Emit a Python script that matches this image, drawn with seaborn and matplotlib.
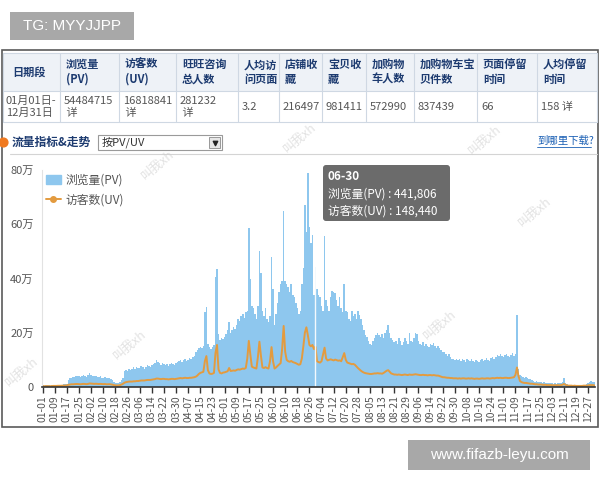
import pandas as pd
import matplotlib
matplotlib.use("Agg")
import matplotlib.pyplot as plt
import seaborn as sns
from matplotlib.patches import Rectangle, FancyBboxPatch, Patch
from matplotlib.lines import Line2D

# daily page views (PV), unit: 万
pv_jan = [0.6, 0.5, 0.6, 0.7, 0.6, 0.5, 0.6, 0.7, 0.8, 0.7, 0.8, 0.9, 0.8, 0.9, 1.0, 1.1, 1.2, 2.5, 3.2, 3.5,
          3.8, 3.6, 4.0, 4.2, 3.9, 3.7, 4.1, 4.3, 4.0, 3.8, 4.4]
pv_feb = [5.2, 4.6, 4.2, 3.9, 4.1, 3.8, 3.6, 3.9, 3.5, 3.4, 3.7, 3.3, 3.2, 3.5, 3.1, 2.6, 2.0, 1.6, 1.4, 1.5,
          1.8, 2.4, 3.5, 5.8, 6.3, 6.0, 6.6, 6.2]
pv_mar = [6.8, 7.2, 6.5, 7.4, 7.0, 6.9, 7.6, 7.3, 6.8, 7.5, 8.0, 7.6, 7.2, 8.1, 8.4, 9.0, 9.8, 9.3, 8.7, 8.2,
          8.9, 8.5, 8.0, 8.3, 7.6, 8.4, 8.8, 8.5, 8.2, 8.9, 9.1]
pv_apr = [9.5, 10.0, 9.2, 9.8, 10.4, 9.6, 10.1, 10.8, 10.2, 11.0, 11.5, 12.8, 13.6, 14.2, 14.8, 14.5, 15.2, 27.5, 29.5, 16.0,
          14.6, 14.0, 14.8, 15.3, 40.5, 43.5, 19.5, 17.2, 18.0, 17.6]
pv_may = [18.5, 19.5, 21, 24, 20, 21, 22, 21.5, 23, 25, 24.5, 26, 27, 25.5, 27.5, 28, 58.6, 40, 30, 29,
          27, 25, 30, 50, 42, 28, 26, 29, 25, 24, 26]
pv_jun = [48, 36, 23, 27, 31, 35, 38, 39, 65, 39, 38, 37, 35, 38, 34, 33, 31, 29, 27, 28,
          38, 44, 67, 57, 79, 59, 53, 56, 34, 44.1806]
pv_jul = [36, 34, 33, 30, 28, 55.5, 32, 30, 28, 33, 35.5, 35, 34.5, 32, 30, 33, 29, 27.5, 38, 28,
          27.5, 25, 24.5, 28, 26, 27, 25, 28, 26.5, 25, 23]
pv_aug = [21, 19, 18.5, 17, 16, 15.5, 17, 18, 19, 20, 19, 18.5, 19.5, 18, 20, 21, 23, 20, 18, 17.5,
          16.5, 17, 16, 18, 17, 15.5, 16.5, 18, 17, 16, 20]
pv_sep = [17, 16.5, 18, 20, 19.5, 17, 16, 15.5, 16.6, 15, 16, 15.2, 14.8, 16, 15.5, 16.2, 15, 14.5, 15.2, 14.4,
          13.5, 12.8, 13, 12, 11.5, 12.2, 11, 10.5, 10.2, 10]
pv_oct = [10.4, 9.8, 10.2, 9.6, 10.5, 10, 9.4, 10.2, 9.8, 9.5, 10.4, 9.7, 9.2, 10, 9.6, 9.3, 9.8, 10.2, 9.5, 9.9,
          10.6, 10.1, 9.7, 10.8, 11.2, 10.5, 11.0, 11.8, 11.3, 12.0, 11.5]
pv_nov = [11.2, 11.8, 12.2, 11.5, 11.0, 11.8, 12.4, 11.6, 12.0, 26.5, 6.5, 4.4, 4.0, 3.8, 3.5, 3.6, 3.3, 3.0, 2.8, 2.5,
          2.2, 2.0, 2.1, 1.8, 1.9, 1.7, 1.6, 1.8, 1.5, 1.4]
pv_dec = [1.5, 1.3, 1.4, 1.2, 1.3, 1.2, 1.4, 1.3, 1.5, 1.8, 3.4, 1.6, 1.0, 0.9, 0.8, 0.8, 0.7, 0.8, 0.7, 0.6,
          0.7, 0.6, 0.7, 0.8, 0.9, 1.2, 1.5, 2.0, 2.2, 2.0, 1.8]

# daily unique visitors (UV), unit: 万
uv_jan = [0.3, 0.3, 0.3, 0.35, 0.3, 0.3, 0.35, 0.4, 0.4, 0.4, 0.45, 0.45, 0.45, 0.5, 0.5, 0.55, 0.6, 0.8, 0.9, 1.0,
          1.0, 1.05, 1.1, 1.1, 1.05, 1.0, 1.1, 1.15, 1.1, 1.05, 1.15]
uv_feb = [1.3, 1.25, 1.2, 1.15, 1.2, 1.15, 1.1, 1.15, 1.1, 1.05, 1.1, 1.0, 1.0, 1.05, 0.95, 0.85, 0.7, 0.6, 0.55, 0.6,
          0.7, 0.9, 1.2, 1.6, 1.8, 1.9, 2.0, 2.0]
uv_mar = [2.0, 2.1, 2.1, 2.2, 2.2, 2.3, 2.4, 2.4, 2.4, 2.5, 2.6, 2.6, 2.6, 2.7, 2.8, 2.9, 3.1, 3.1, 3.0, 2.9,
          3.0, 3.0, 2.9, 2.9, 2.8, 2.9, 3.0, 3.0, 2.9, 3.0, 3.1]
uv_apr = [3.2, 3.3, 3.2, 3.3, 3.4, 3.3, 3.3, 3.4, 3.4, 3.5, 3.6, 3.8, 4.2, 4.8, 5.2, 5.4, 5.6, 9.5, 11.4, 6.2,
          5.0, 4.8, 4.9, 5.2, 12.5, 15.5, 6.5, 5.2, 5.0, 5.3]
uv_may = [5.4, 5.6, 5.8, 7.0, 5.9, 6.0, 6.1, 6.0, 6.3, 6.5, 6.4, 6.6, 6.8, 6.7, 7.0, 10.5, 17.0, 12.0, 7.5, 7.2,
          7.0, 6.8, 11.0, 16.7, 11.5, 7.2, 7.0, 7.3, 7.0, 6.8, 9.5]
uv_jun = [14.7, 9.5, 6.8, 7.2, 7.8, 8.3, 8.8, 14.0, 22.5, 13.0, 10.0, 9.5, 9.3, 9.6, 9.2, 9.0, 8.8, 8.5, 8.2, 8.4,
          10.5, 15.0, 20.0, 22.0, 19.0, 15.5, 15.0, 15.5, 14.0, 14.844]
uv_jul = [9.5, 9.2, 9.0, 9.5, 12.0, 14.5, 10.5, 9.8, 10.0, 10.2, 10.0, 9.8, 10.1, 9.9, 9.7, 9.8, 9.5, 11.0, 12.5, 10.0,
          9.0, 8.8, 8.6, 8.4, 8.5, 8.2, 7.6, 7.0, 6.5, 6.0, 5.6]
uv_aug = [5.3, 5.1, 5.0, 4.9, 4.8, 4.8, 4.9, 5.0, 5.0, 5.1, 5.0, 5.0, 4.9, 5.2, 5.6, 6.0, 6.2, 5.6, 5.0, 4.8,
          4.6, 4.6, 4.5, 4.6, 4.5, 4.4, 4.5, 4.6, 4.5, 4.4, 4.6]
uv_sep = [4.5, 4.5, 4.6, 4.7, 4.6, 4.5, 4.4, 4.4, 4.5, 4.4, 4.4, 4.3, 4.4, 4.4, 4.3, 4.4, 4.3, 4.2, 4.2, 4.0,
          3.8, 3.6, 3.6, 3.5, 3.4, 3.4, 3.3, 3.3, 3.2, 3.2]
uv_oct = [3.2, 3.1, 3.2, 3.1, 3.2, 3.2, 3.1, 3.1, 3.2, 3.1, 3.2, 3.1, 3.0, 3.1, 3.1, 3.0, 3.1, 3.2, 3.1, 3.1,
          3.2, 3.2, 3.1, 3.2, 3.3, 3.2, 3.3, 3.4, 3.3, 3.4, 3.3]
uv_nov = [3.3, 3.4, 3.4, 3.3, 3.3, 3.4, 3.5, 3.6, 4.5, 7.2, 4.0, 2.2, 1.8, 1.6, 1.5, 1.5, 1.4, 1.3, 1.2, 1.2,
          1.1, 1.0, 1.0, 0.9, 0.9, 0.9, 0.8, 0.8, 0.8, 0.7]
uv_dec = [0.7, 0.7, 0.7, 0.6, 0.7, 0.6, 0.7, 0.6, 0.7, 0.8, 1.1, 0.8, 0.6, 0.5, 0.5, 0.5, 0.4, 0.5, 0.4, 0.4,
          0.4, 0.4, 0.4, 0.5, 0.5, 0.5, 0.6, 0.7, 0.7, 0.7, 0.6]

pv = (pv_jan + pv_feb + pv_mar + pv_apr + pv_may + pv_jun +
      pv_jul + pv_aug + pv_sep + pv_oct + pv_nov + pv_dec)
uv = (uv_jan + uv_feb + uv_mar + uv_apr + uv_may + uv_jun +
      uv_jul + uv_aug + uv_sep + uv_oct + uv_nov + uv_dec)
dates = pd.date_range("2015-01-01", "2015-12-31", freq="D")
df = pd.DataFrame({"day": range(len(dates)), "date": dates.strftime("%m-%d"), "pv": pv, "uv": uv})

y_ticks = [0, 20, 40, 60, 80]
y_labels = ["0", "20万", "40万", "60万", "80万"]
hover_day = "06-30"

# summary table above the chart
table_heads = ["日期段", "浏览量\n(PV)", "访客数\n(UV)", "旺旺咨询\n总人数", "人均访\n问页面", "店铺收\n藏",
               "宝贝收\n藏", "加购物\n车人数", "加购物车宝\n贝件数", "页面停留\n时间", "人均停留\n时间"]
table_vals = ["01月01日-\n12月31日", "54484715\n 详", "16818841\n 详", "281232\n 详", "3.2", "216497",
              "981411", "572990", "837439", "66", "158 详"]
col_edges = [3, 60, 119, 176, 238, 279, 322, 366, 414, 477, 537, 597]

# faint watermark stamps
marks = [(22, 372, "叫我xh"), (130, 345, "叫我xh"), (158, 165, "叫我xh"), (300, 138, "叫我xh"),
         (485, 140, "叫我xh"), (535, 212, "叫我xh"), (440, 325, "叫我xh")]

sns.set_theme(style="white")
plt.rcParams["font.family"] = ["Noto Sans CJK SC", "DejaVu Sans"]

fig = plt.figure(figsize=(6, 4.8), dpi=100)
bg = fig.add_axes([0, 0, 1, 1])
bg.set_xlim(0, 600)
bg.set_ylim(480, 0)
bg.axis("off")

# screenshot frame
bg.add_patch(Rectangle((2, 50), 596, 377, fill=False, ec="#5a5a5a", lw=1.2))

# table
bg.add_patch(Rectangle((3, 53), 594, 38, fc="#eef2f7", ec="none"))
for y in [53, 91, 122]:
    bg.plot([3, 597], [y, y], color="#cfd8e3", lw=0.8)
for x in col_edges:
    bg.plot([x, x], [53, 122], color="#cfd8e3", lw=0.8)
for i, (h, v) in enumerate(zip(table_heads, table_vals)):
    x0 = col_edges[i] + 6
    bg.text(x0 + (3 if i == 0 else 0), 72, h, fontsize=8, color="#1d3b70", fontweight="bold",
            va="center", ha="left", linespacing=1.15)
    bg.text(x0 - (3 if i == 0 else 2), 107, v, fontsize=8, color="#555555",
            va="center", ha="left", linespacing=1.25)

# section title row
bg.scatter([3], [142], s=40, color="#f07a20", zorder=3)
bg.text(12, 142, "流量指标&走势", fontsize=8.5, color="#1d3b70", fontweight="bold", va="center")
bg.add_patch(Rectangle((98, 135), 124, 15, fc="white", ec="#9a9a9a", lw=0.8))
bg.text(102, 142.5, "按PV/UV", fontsize=8, color="#333333", va="center")
bg.add_patch(Rectangle((209, 137), 11, 11, fc="#e6e6e6", ec="#8a8a8a", lw=0.6))
bg.scatter([214.5], [143], marker="v", s=10, color="#222222")
bg.text(537, 141, "到哪里下载?", fontsize=7.5, color="#1a5fb4", va="center")
bg.plot([537, 591], [147, 147], color="#1a5fb4", lw=0.6)
bg.plot([10, 597], [154, 154], color="#d4d4d4", lw=0.8)

# chart
ax = fig.add_axes([42 / 600, 1 - 387 / 480, 553 / 600, 217 / 480])
ax.patch.set_alpha(0)
ax.bar(df["day"], df["pv"], width=1.0, color="#8ec7ee", linewidth=0)
sns.lineplot(data=df, x="day", y="uv", ax=ax, color="#e39b3f", lw=1.4)
hover_idx = df.index[df["date"] == hover_day][0]
ax.axvline(hover_idx, color="white", lw=1, alpha=0.9)
ax.set_xlim(-0.5, len(df) - 0.5)
ax.set_ylim(0, 80)
ax.set_yticks(y_ticks)
ax.set_yticklabels(y_labels, fontsize=8, color="#555555")
tick_days = df["day"][::8]
ax.set_xticks(tick_days)
ax.set_xticklabels(df["date"][::8], rotation=90, fontsize=7.5, color="#555555")
ax.tick_params(axis="x", direction="out", length=4, width=1, color="#333333", pad=2, bottom=True)
ax.tick_params(axis="y", length=0, pad=6)
ax.set_xlabel("")
ax.set_ylabel("")
for s in ["top", "right"]:
    ax.spines[s].set_visible(False)
ax.spines["left"].set_color("#e2e2e2")
ax.spines["left"].set_linewidth(0.8)
ax.spines["bottom"].set_color("#333333")
ax.spines["bottom"].set_linewidth(1.2)

handles = [Patch(color="#8ec7ee"),
           Line2D([0], [0], color="#e39b3f", lw=1.4, marker="o", markersize=4)]
ax.legend(handles, ["浏览量(PV)", "访客数(UV)"], loc="upper left", bbox_to_anchor=(0, 1.0),
          frameon=False, fontsize=8.5, handlelength=1.3, handletextpad=0.4, labelspacing=0.6,
          borderaxespad=0, borderpad=0.3, labelcolor="#555555")

# tooltip and watermarks on top
top = fig.add_axes([0, 0, 1, 1], zorder=5)
top.set_xlim(0, 600)
top.set_ylim(480, 0)
top.axis("off")
for mx, my, mt in marks:
    top.text(mx, my, mt, fontsize=9, color="#cfcfcf", alpha=0.6, rotation=40,
             ha="center", va="center")
top.add_patch(FancyBboxPatch((323, 165), 127, 56, boxstyle="round,pad=0,rounding_size=3",
                             fc="#5e5e5e", ec="none", alpha=0.92))
hp = df.loc[hover_idx, "pv"] * 10000
hu = df.loc[hover_idx, "uv"] * 10000
top.text(328, 177, hover_day, fontsize=8.5, color="white", va="center", fontweight="bold")
top.text(328, 194, f"浏览量(PV) : {hp:,.0f}", fontsize=8.5, color="white", va="center")
top.text(328, 211, f"访客数(UV) : {hu:,.0f}", fontsize=8.5, color="white", va="center")

top.add_patch(Rectangle((10, 12), 124, 28, fc="#a8a8a8", ec="none"))
top.text(72, 26.5, "TG: MYYJJPP", fontsize=11, color="white", ha="center", va="center",
         family=["Liberation Sans", "DejaVu Sans"])
top.add_patch(Rectangle((408, 440), 182, 30, fc="#a8a8a8", ec="none"))
top.text(499, 455.5, "www.fifazb-leyu.com", fontsize=11, color="white", ha="center", va="center",
         family=["Liberation Sans", "DejaVu Sans"])

fig.savefig("out.png", dpi=100)
